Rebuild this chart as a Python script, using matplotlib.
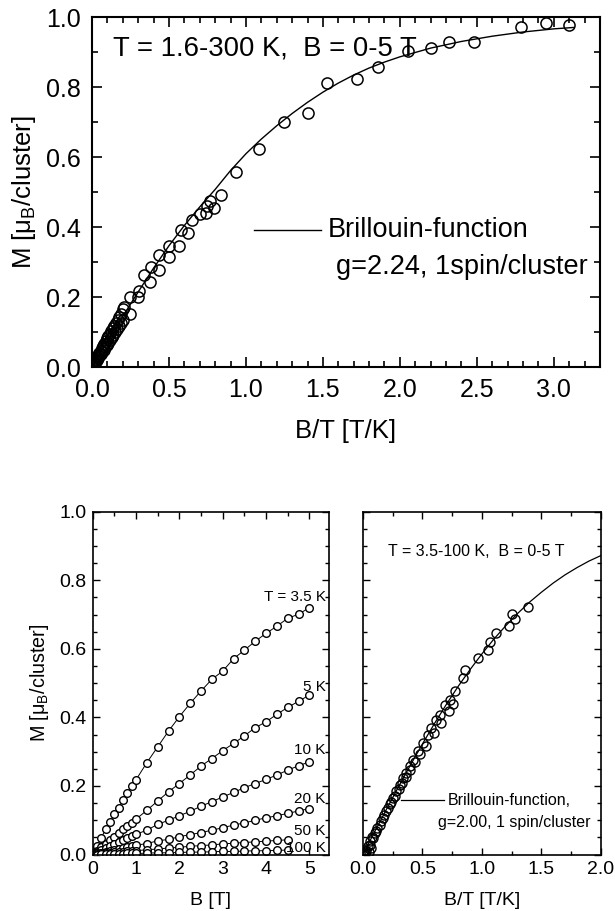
import matplotlib
matplotlib.use("Agg")
import matplotlib.pyplot as plt
from matplotlib.ticker import MultipleLocator

plt.rcParams['font.family'] = ['Liberation Sans', 'DejaVu Sans']
plt.rcParams['mathtext.fontset'] = 'custom'
plt.rcParams['mathtext.rm'] = 'Liberation Sans'
plt.rcParams['mathtext.it'] = 'Liberation Sans:italic'

# ---- top panel: all data, T = 1.6-300 K ----
top_x = [3.10, 2.95, 2.79, 2.48, 2.32, 2.20, 2.05, 1.86, 1.72, 1.525, 1.40, 1.25,
         1.083, 0.937, 0.836, 0.765, 0.75, 0.79, 0.74, 0.70, 0.65, 0.626, 0.576,
         0.563, 0.50, 0.50, 0.437, 0.437, 0.386, 0.374, 0.341, 0.303, 0.298,
         0.247, 0.247, 0.21]
top_y = [0.978, 0.985, 0.971, 0.929, 0.929, 0.913, 0.905, 0.859, 0.823, 0.813,
         0.727, 0.702, 0.623, 0.557, 0.493, 0.475, 0.462, 0.456, 0.44, 0.437,
         0.422, 0.384, 0.393, 0.345, 0.345, 0.316, 0.321, 0.279, 0.287, 0.243,
         0.263, 0.219, 0.20, 0.20, 0.152, 0.171]
# dense low-field cluster (high temperatures)
top_low_x = [0.0, 0.003, 0.008, 0.014, 0.02, 0.027, 0.034, 0.041, 0.048, 0.056,
             0.064, 0.072, 0.08, 0.089, 0.098, 0.107, 0.116, 0.125, 0.135, 0.145,
             0.155, 0.166, 0.177, 0.188, 0.2,
             0.006, 0.012, 0.018, 0.025, 0.032, 0.04, 0.048, 0.057, 0.066, 0.075,
             0.085, 0.095, 0.105, 0.116, 0.127, 0.139, 0.151, 0.164, 0.177, 0.19, 0.2]
top_low_y = [0.0, 0.003, 0.007, 0.012, 0.017, 0.023, 0.029, 0.034, 0.04, 0.047,
             0.054, 0.06, 0.067, 0.074, 0.082, 0.089, 0.096, 0.103, 0.111, 0.119,
             0.127, 0.135, 0.143, 0.152, 0.165,
             0.004, 0.008, 0.012, 0.017, 0.021, 0.027, 0.032, 0.038, 0.044, 0.05,
             0.057, 0.063, 0.07, 0.078, 0.085, 0.093, 0.101, 0.11, 0.119, 0.127, 0.135]
top_fit_x = [0, 0.1, 0.2, 0.3, 0.4, 0.5, 0.6, 0.7, 0.8, 0.9, 1.0, 1.1, 1.2, 1.3, 1.4,
             1.5, 1.6, 1.7, 1.8, 1.9, 2.0, 2.2, 2.4, 2.6, 2.8, 3.0, 3.13]
top_fit_y = [0, 0.073, 0.145, 0.215, 0.283, 0.347, 0.405, 0.458, 0.508, 0.562, 0.61,
             0.652, 0.69, 0.725, 0.757, 0.786, 0.812, 0.835, 0.855, 0.872, 0.887,
             0.912, 0.931, 0.946, 0.958, 0.967, 0.971]

# ---- bottom left: M(B) at fixed T ----
field_low = [0.1, 0.2, 0.3, 0.4, 0.5, 0.6, 0.7, 0.8, 0.9, 1.0]
field_high = [1.25, 1.5, 1.75, 2.0, 2.25, 2.5, 2.75, 3.0, 3.25, 3.5, 3.75, 4.0,
              4.25, 4.5, 4.75, 5.0]
m_3p5K = [0.024, 0.049, 0.074, 0.095, 0.117, 0.136, 0.158, 0.178, 0.200, 0.218,
          0.268, 0.314, 0.36, 0.402, 0.441, 0.477, 0.511, 0.535, 0.571, 0.596,
          0.622, 0.645, 0.666, 0.689, 0.701, 0.72]
m_5K = [0.011, 0.021, 0.032, 0.042, 0.052, 0.062, 0.073, 0.083, 0.093, 0.103,
        0.129, 0.156, 0.183, 0.207, 0.232, 0.258, 0.28, 0.303, 0.324, 0.346,
        0.37, 0.387, 0.409, 0.429, 0.447, 0.465]
m_10K = [0.006, 0.012, 0.018, 0.024, 0.030, 0.036, 0.042, 0.047, 0.053, 0.059,
         0.071, 0.088, 0.100, 0.113, 0.126, 0.141, 0.154, 0.168, 0.181, 0.195,
         0.207, 0.219, 0.232, 0.246, 0.259, 0.27]
m_20K = [0.003, 0.005, 0.008, 0.011, 0.014, 0.016, 0.019, 0.022, 0.024, 0.027,
         0.032, 0.04, 0.044, 0.052, 0.058, 0.064, 0.071, 0.078, 0.086, 0.092,
         0.1, 0.107, 0.113, 0.12, 0.127, 0.134]
m_50K = [0.002, 0.003, 0.004, 0.005, 0.006, 0.007, 0.008, 0.009, 0.010, 0.011,
         0.014, 0.016, 0.019, 0.021, 0.024, 0.026, 0.028, 0.031, 0.033, 0.035,
         0.037, 0.039, 0.041, 0.043]
m_100K = [0.000, 0.001, 0.001, 0.001, 0.002, 0.002, 0.002, 0.003, 0.003, 0.003,
          0.004, 0.005, 0.005, 0.006, 0.007, 0.007, 0.008, 0.009, 0.009, 0.010,
          0.011, 0.011, 0.012, 0.013]
series = [("T = 3.5 K", m_3p5K, 0.752), ("5 K", m_5K, 0.489), ("10 K", m_10K, 0.304),
          ("20 K", m_20K, 0.163), ("50 K", m_50K, 0.068), ("100 K", m_100K, 0.02)]

# ---- bottom right: M vs B/T, T = 3.5-100 K ----
br_x = [1.39, 1.256, 1.276, 1.228, 1.122, 1.07, 1.05, 0.968, 0.861, 0.842, 0.771,
        0.729, 0.687, 0.645, 0.617, 0.575, 0.547, 0.505, 0.463, 0.421, 0.393,
        0.365, 0.337, 0.309, 0.28, 0.252, 0.224, 0.196, 0.168, 0.14, 0.112, 0.084,
        0.056, 0.028, 0.01, 0.0,
        0.02, 0.04, 0.06, 0.08, 0.1, 0.12, 0.15, 0.18, 0.21, 0.24, 0.27, 0.3, 0.33,
        0.36, 0.4, 0.44, 0.48, 0.53, 0.6, 0.66, 0.72, 0.76, 0.07, 0.05, 0.005]
br_y = [0.721, 0.702, 0.687, 0.668, 0.646, 0.621, 0.597, 0.573, 0.539, 0.515,
        0.476, 0.451, 0.437, 0.408, 0.391, 0.369, 0.35, 0.325, 0.301, 0.277,
        0.257, 0.238, 0.223, 0.204, 0.184, 0.165, 0.146, 0.126, 0.107, 0.087,
        0.068, 0.049, 0.029, 0.01, 0.005, 0.0,
        0.012, 0.025, 0.038, 0.051, 0.064, 0.077, 0.097, 0.116, 0.135, 0.153,
        0.171, 0.19, 0.208, 0.225, 0.247, 0.27, 0.293, 0.318, 0.355, 0.385, 0.418,
        0.44, 0.02, 0.008, 0.0]
br_fit_x = [0, 0.1, 0.2, 0.3, 0.4, 0.5, 0.6, 0.7, 0.8, 0.9, 1.0, 1.1, 1.2, 1.3, 1.4,
            1.5, 1.6, 1.7, 1.8, 1.9, 2.0]
br_fit_y = [0, 0.067, 0.133, 0.198, 0.261, 0.322, 0.381, 0.437, 0.490, 0.539, 0.585,
            0.628, 0.667, 0.703, 0.736, 0.765, 0.792, 0.816, 0.837, 0.856, 0.872]

ylab = r'M [$\mathrm{\mu}_\mathrm{B}$/cluster]'

fig = plt.figure(figsize=(6.15, 9.11), dpi=100)

# top
ax = fig.add_axes([0.1496, 0.597, 0.826, 0.384])
ax.plot(top_low_x, top_low_y, 'o', ms=8, mfc='none', mec='black', mew=1.1)
ax.plot(top_x, top_y, 'o', ms=8, mfc='none', mec='black', mew=1.1)
ax.plot(top_fit_x, top_fit_y, '-', color='black', lw=1.0)
ax.set_xlim(0, 3.3)
ax.set_ylim(0, 1.0)
ax.xaxis.set_major_locator(MultipleLocator(0.5))
ax.xaxis.set_minor_locator(MultipleLocator(0.1))
ax.yaxis.set_major_locator(MultipleLocator(0.2))
ax.yaxis.set_minor_locator(MultipleLocator(0.1))
ax.xaxis.set_major_formatter('{x:.1f}')
ax.yaxis.set_major_formatter('{x:.1f}')
ax.tick_params(which='both', direction='in', top=True, right=True, width=1.2,
               labelsize=18, pad=8)
ax.tick_params(which='major', length=7)
ax.tick_params(which='minor', length=4)
for s in ax.spines.values():
    s.set_linewidth(1.5)
ax.set_xlabel('B/T [T/K]', fontsize=18.5, labelpad=12)
ax.set_ylabel(ylab, fontsize=18.5, labelpad=6)
ax.text(0.134, 0.91, 'T = 1.6-300 K,  B = 0-5 T', fontsize=19.8, va='center')
ax.plot([1.05, 1.485], [0.393, 0.393], '-', color='black', lw=1.0)
ax.text(1.53, 0.393, 'Brillouin-function', fontsize=19.5, va='center')
ax.text(1.586, 0.287, 'g=2.24, 1spin/cluster', fontsize=19.5, va='center')

# bottom left
ax2 = fig.add_axes([0.1507, 0.062, 0.384, 0.3763])
for label, m, ty in series:
    b = (field_low + field_high)[:len(m)]
    ax2.plot(b, m, '-', color='black', lw=0.7)
    ax2.plot(b, m, 'o', ms=5.5, mfc='white', mec='black', mew=1.0)
    ax2.text(5.38, ty, label, fontsize=11, ha='right', va='center', clip_on=False)
ax2.set_xlim(0, 5.45)
ax2.set_ylim(0, 1.0)
ax2.xaxis.set_major_locator(MultipleLocator(1))
ax2.xaxis.set_minor_locator(MultipleLocator(0.5))
ax2.yaxis.set_major_locator(MultipleLocator(0.2))
ax2.yaxis.set_minor_locator(MultipleLocator(0.05))
ax2.yaxis.set_major_formatter('{x:.1f}')
ax2.tick_params(which='both', direction='in', top=True, right=True, width=1.0,
                labelsize=14, pad=4.5)
ax2.tick_params(which='major', length=5)
ax2.tick_params(which='minor', length=3)
for s in ax2.spines.values():
    s.set_linewidth(1.2)
ax2.set_xlabel('B [T]', fontsize=14, labelpad=10)
ax2.set_ylabel(ylab, fontsize=14.2, labelpad=6)

# bottom right
ax3 = fig.add_axes([0.590, 0.062, 0.387, 0.3763])
ax3.plot(br_x, br_y, 'o', ms=6.5, mfc='none', mec='black', mew=1.0)
ax3.plot(br_fit_x, br_fit_y, '-', color='black', lw=0.9)
ax3.set_xlim(0, 2.0)
ax3.set_ylim(0, 1.0)
ax3.xaxis.set_major_locator(MultipleLocator(0.5))
ax3.xaxis.set_minor_locator(MultipleLocator(0.25))
ax3.yaxis.set_major_locator(MultipleLocator(0.2))
ax3.yaxis.set_minor_locator(MultipleLocator(0.05))
ax3.xaxis.set_major_formatter('{x:.1f}')
ax3.tick_params(which='both', direction='in', top=True, right=True, width=1.0,
                labelsize=14, pad=4.5, labelleft=False)
ax3.tick_params(which='major', length=5)
ax3.tick_params(which='minor', length=3)
for s in ax3.spines.values():
    s.set_linewidth(1.2)
ax3.set_xlabel('B/T [T/K]', fontsize=14, labelpad=10)
ax3.text(0.21, 0.883, 'T = 3.5-100 K,  B = 0-5 T', fontsize=11.5, va='center')
ax3.plot([0.317, 0.679], [0.16, 0.16], '-', color='black', lw=0.9)
ax3.text(0.715, 0.157, 'Brillouin-function,', fontsize=11.5, va='center')
ax3.text(0.631, 0.092, 'g=2.00, 1 spin/cluster', fontsize=11.5, va='center')

fig.savefig('out.png', dpi=100)
